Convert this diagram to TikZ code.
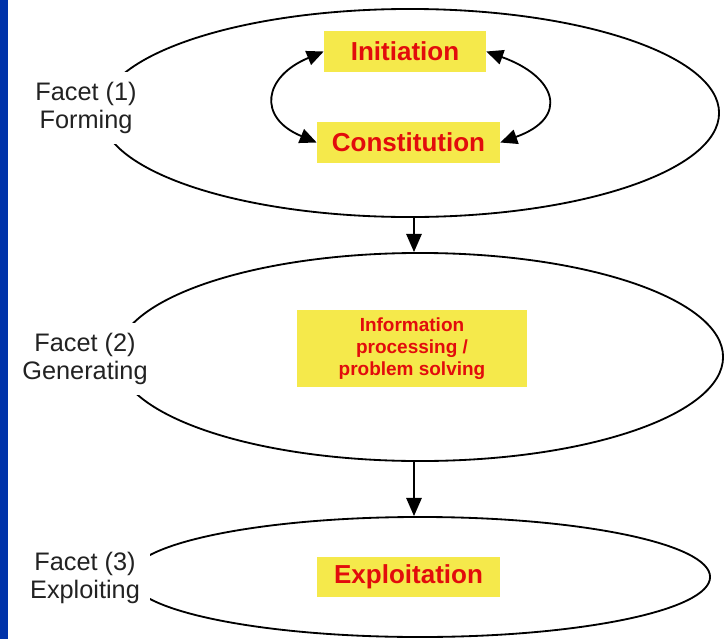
\documentclass[tikz,border=0pt]{standalone}
\usepackage{fontspec}
\setmainfont{Liberation Sans}
\usetikzlibrary{shapes.geometric,arrows.meta,positioning}
\definecolor{stripblue}{RGB}{0,51,170}
\definecolor{boxyellow}{RGB}{245,233,75}
\definecolor{boxred}{RGB}{226,12,12}
\definecolor{labelgray}{RGB}{34,34,34}
\begin{document}
\begin{tikzpicture}
[x=0.025cm,y=-0.025cm,
facet/.style={ellipse,draw,line width=1.3pt,inner sep=0pt},
facet text/.style={fill=white,text=labelgray,align=center,inner xsep=7pt,inner ysep=7pt,font=\fontsize{18}{20}\selectfont},
activity/.style={fill=boxyellow,text=boxred,font=\bfseries\fontsize{18.5}{22}\selectfont,minimum height=1.02cm,inner sep=0pt},
flow/.style={line width=1.3pt,-{Triangle[length=13pt,width=11pt]}},
loop/.style={line width=1.3pt,{Triangle[length=12pt,width=10.5pt]}-{Triangle[length=12pt,width=10.5pt]}}]
\useasboundingbox (0,0) rectangle (726,639);
\fill[stripblue] (0,0) rectangle (8,639);
% the three facets
\node[facet,minimum width=15.45cm,minimum height=5.2cm] (f1) at (410,113) {};
\node[facet,minimum width=15.15cm,minimum height=5.2cm] (f2) at (420,357) {};
\node[facet,minimum width=14.5cm,minimum height=3cm] (f3) at (420,577) {};
\node[facet text] (l1) at (86,108) {Facet (1)\\Forming};
\node[facet text] (l2) at (85,359) {Facet (2)\\Generating};
\node[facet text] (l3) at (85,578) {Facet (3)\\Exploiting};
% activities
\node[activity,minimum width=4.05cm] (init) at (405,51.5) {Initiation};
\node[activity,minimum width=4.575cm] (con) at (408.5,142.5) {Constitution};
\node[activity,minimum width=5.75cm,minimum height=1.925cm,align=center,
      font=\bfseries\fontsize{13.5}{15.6}\selectfont] (info) at (412,348.5) {Information\\processing /\\problem solving};
\node[activity,minimum width=4.575cm,minimum height=1cm] (expl) at (408.5,577) {Exploitation};
\coordinate (axis) at (414,0);
\draw[flow] (f1.south -| axis) -- (f2.north -| axis);
\draw[flow] (f2.south -| axis) -- (f3.north -| axis);
\draw[loop] (con.west) .. controls +(-60,-25) and +(-60,25) .. (init.west);
\draw[loop] (init.east) .. controls +(70,25) and +(70,-25) .. (con.east);
\end{tikzpicture}
\end{document}
